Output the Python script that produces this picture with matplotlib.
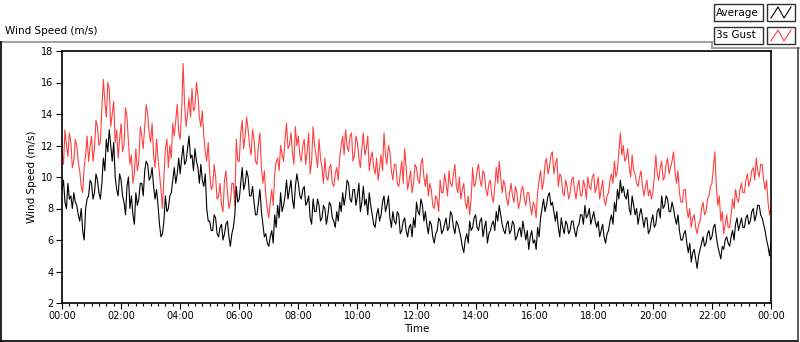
import matplotlib
matplotlib.use("Agg")
import matplotlib.pyplot as plt
import matplotlib.dates as mdates
from matplotlib.lines import Line2D
from matplotlib.patches import Rectangle
import pandas as pd

# ---- data (3-minute samples, 00:00 .. 24:00), m/s ----
gust_00_04 = [11.6, 10.8, 13.0, 12.0, 11.3, 12.8, 12.2, 10.6, 11.0, 12.4, 12.0, 10.9, 10.4, 9.4, 9.0, 10.6,
              11.4, 12.6, 11.0, 11.9, 12.6, 11.0, 11.8, 13.6, 13.2, 12.0, 12.2, 14.4, 16.2, 14.8, 13.8, 16.0,
              15.6, 13.2, 14.0, 14.8, 12.2, 13.0, 11.2, 12.4, 13.4, 11.6, 12.0, 14.4, 13.8, 12.2, 10.8, 11.4,
              9.6, 10.2, 11.8, 10.4, 11.0, 13.2, 12.6, 11.8, 13.2, 14.6, 14.0, 12.8, 12.2, 13.4, 11.4, 10.6,
              12.4, 11.2, 10.2, 9.2, 8.0, 10.0, 11.8, 12.4, 10.6, 12.0, 11.2, 13.4, 12.6, 13.6, 14.6, 12.8]
gust_04_08 = [12.4, 14.2, 17.2, 14.6, 13.2, 14.0, 15.0, 13.8, 15.6, 14.2, 14.4, 16.0, 15.2, 13.8, 13.2, 14.2,
              12.6, 11.6, 11.0, 12.2, 10.2, 9.2, 9.4, 10.8, 10.0, 8.6, 8.8, 9.6, 8.2, 7.8, 9.8, 10.4,
              9.0, 8.0, 8.4, 9.6, 9.6, 8.2, 12.4, 11.0, 11.0, 12.8, 13.6, 11.8, 12.6, 13.8, 13.0, 12.0,
              11.4, 13.0, 12.4, 11.0, 10.8, 12.0, 12.8, 10.6, 9.6, 10.4, 8.8, 8.0, 7.4, 8.4, 9.2, 8.2,
              10.2, 11.0, 11.2, 10.4, 12.0, 11.4, 11.0, 12.4, 13.4, 11.8, 12.0, 12.8, 11.6, 10.8, 13.2, 12.0]
gust_08_12 = [12.6, 11.4, 11.0, 12.0, 12.4, 10.8, 11.6, 12.8, 10.2, 11.0, 13.2, 12.0, 11.4, 10.6, 12.4, 11.2,
              10.6, 9.6, 11.2, 10.0, 9.8, 10.6, 10.8, 9.6, 9.4, 10.2, 10.6, 9.8, 11.2, 12.0, 12.6, 11.4,
              13.0, 12.0, 11.6, 12.6, 12.8, 11.0, 11.4, 12.6, 12.2, 11.2, 10.6, 11.8, 12.8, 11.4, 11.8, 12.6,
              10.4, 11.2, 11.6, 10.6, 10.2, 11.2, 9.8, 10.6, 11.4, 10.4, 12.8, 11.4, 10.8, 12.0, 11.6, 10.4,
              9.8, 10.8, 10.8, 9.6, 9.4, 10.2, 11.0, 9.6, 11.8, 10.6, 9.2, 9.8, 10.4, 9.0, 9.6, 10.8]
gust_12_16 = [10.6, 9.8, 9.6, 10.8, 11.2, 10.0, 9.4, 10.2, 8.8, 9.6, 9.2, 8.2, 8.0, 8.8, 8.6, 7.8,
              9.8, 9.0, 9.0, 10.2, 9.6, 8.8, 10.4, 9.6, 9.4, 10.2, 10.8, 9.4, 9.0, 10.0, 8.6, 9.2,
              9.6, 8.4, 8.0, 8.8, 7.6, 8.6, 10.6, 9.4, 9.6, 10.4, 10.8, 9.8, 9.4, 10.4, 10.2, 9.2,
              8.8, 9.6, 9.8, 8.8, 8.4, 9.4, 10.6, 9.6, 11.0, 10.0, 9.0, 9.8, 9.4, 8.6, 8.2, 9.0,
              9.6, 8.8, 8.4, 9.4, 9.0, 8.0, 8.4, 9.2, 9.4, 8.6, 8.2, 9.0, 9.0, 8.2, 7.6, 8.4]
gust_16_20 = [8.2, 7.4, 9.0, 9.8, 10.4, 9.2, 9.6, 10.8, 11.2, 10.2, 10.6, 11.4, 11.6, 10.2, 10.8, 11.2,
              9.4, 10.2, 10.0, 9.0, 8.8, 9.8, 9.4, 8.6, 9.0, 9.8, 10.0, 9.2, 8.6, 9.4, 9.8, 8.8,
              8.8, 9.8, 9.4, 8.6, 10.0, 9.4, 9.2, 10.0, 10.2, 9.0, 9.4, 10.0, 8.6, 9.2, 9.8, 8.6,
              8.2, 8.8, 9.0, 9.8, 10.2, 9.6, 11.0, 10.0, 10.4, 11.6, 12.8, 11.4, 12.0, 11.0, 11.2, 11.8,
              10.6, 10.0, 11.4, 10.4, 10.2, 9.6, 9.4, 10.0, 10.4, 9.4, 8.8, 9.4, 9.8, 8.8, 9.2, 8.6]
gust_20_24 = [9.0, 10.0, 11.4, 10.2, 9.8, 10.6, 11.0, 9.8, 10.0, 10.8, 11.2, 10.2, 10.6, 11.0, 11.6, 10.4,
              9.6, 10.4, 9.0, 8.4, 8.4, 9.2, 9.2, 8.0, 7.4, 8.0, 6.8, 7.4, 7.6, 6.8, 6.4, 7.0,
              7.2, 8.0, 8.4, 7.6, 7.8, 8.6, 8.8, 9.4, 9.6, 10.6, 11.6, 9.4, 8.2, 8.8, 7.2, 7.8,
              6.4, 7.0, 7.6, 6.8, 6.8, 7.6, 8.6, 8.0, 9.2, 8.6, 8.4, 9.2, 9.6, 9.0, 9.0, 9.8,
              10.2, 9.4, 9.8, 10.4, 10.6, 9.8, 11.2, 10.4, 10.0, 10.8, 10.8, 9.8, 9.2, 9.8, 8.4, 7.6, 8.0]

avg_00_04 = [9.2, 9.8, 8.4, 8.0, 9.6, 8.6, 8.8, 8.0, 9.0, 8.4, 8.2, 7.6, 7.2, 8.0, 6.6, 6.0,
             8.0, 8.6, 8.8, 9.8, 9.6, 8.6, 9.0, 10.2, 9.8, 9.0, 8.6, 9.6, 11.2, 10.4, 12.4, 11.6,
             13.0, 12.0, 11.0, 12.2, 10.0, 9.2, 8.8, 10.2, 9.8, 8.8, 8.4, 7.6, 9.4, 10.0, 8.0, 8.8,
             7.6, 7.0, 9.0, 8.2, 8.6, 9.6, 9.6, 8.8, 10.4, 11.0, 10.8, 9.8, 10.0, 10.6, 9.4, 8.6,
             9.2, 8.2, 7.0, 6.2, 6.4, 7.2, 8.8, 7.8, 8.0, 8.8, 9.0, 9.8, 10.6, 9.6, 10.2, 11.2]
avg_04_08 = [10.2, 11.2, 12.0, 10.8, 11.0, 11.8, 12.6, 11.2, 11.4, 10.4, 11.8, 11.0, 10.6, 9.6, 10.8, 9.8,
             9.4, 10.2, 8.0, 7.2, 7.2, 6.6, 6.6, 7.6, 7.4, 6.4, 6.2, 6.8, 7.0, 6.0, 6.4, 7.0,
             7.2, 6.2, 5.6, 6.4, 6.8, 7.6, 9.4, 8.4, 8.6, 9.6, 10.6, 9.2, 9.6, 10.4, 10.0, 8.8,
             8.8, 9.4, 8.4, 7.6, 7.6, 8.4, 9.2, 7.8, 7.0, 6.2, 6.4, 5.8, 5.6, 6.2, 6.6, 5.8,
             7.6, 6.8, 8.2, 7.4, 9.0, 7.8, 8.2, 8.8, 9.8, 8.6, 9.2, 9.8, 8.6, 8.0, 9.4, 10.2]
avg_08_12 = [9.6, 8.8, 8.6, 9.2, 9.4, 8.2, 8.4, 8.8, 7.4, 7.0, 8.6, 7.8, 7.8, 8.6, 8.2, 7.2,
             7.4, 8.2, 8.0, 7.0, 7.6, 8.4, 8.2, 7.4, 7.2, 6.8, 7.8, 7.2, 8.4, 7.8, 9.0, 8.2,
             8.8, 9.8, 9.6, 8.6, 8.4, 9.2, 9.2, 8.2, 8.8, 9.6, 7.8, 8.4, 9.4, 8.2, 8.6, 7.6,
             9.0, 8.2, 7.6, 7.0, 6.8, 7.6, 8.0, 7.2, 7.6, 8.4, 8.8, 7.8, 8.2, 8.8, 7.4, 6.8,
             7.8, 7.2, 7.0, 7.8, 7.6, 6.4, 6.6, 7.2, 7.4, 6.6, 6.2, 6.8, 7.0, 6.2, 7.4, 6.8]
avg_12_16 = [8.4, 7.8, 7.6, 8.6, 8.2, 7.2, 7.8, 7.0, 6.4, 7.2, 7.0, 6.2, 5.8, 6.4, 6.6, 7.4,
             7.2, 6.4, 6.6, 7.0, 7.4, 6.6, 6.8, 7.8, 7.6, 6.8, 6.4, 7.2, 7.0, 6.6, 6.2, 5.6,
             5.2, 6.0, 6.4, 5.8, 7.2, 6.6, 6.8, 7.4, 7.6, 6.8, 6.6, 7.2, 7.4, 6.2, 6.8, 7.2,
             5.8, 6.4, 6.6, 7.0, 7.2, 6.6, 7.8, 7.2, 8.2, 7.6, 7.0, 6.6, 6.4, 7.0, 7.2, 6.4,
             6.6, 7.2, 7.0, 6.0, 6.2, 6.6, 6.8, 6.2, 7.2, 6.6, 6.0, 6.6, 5.4, 6.2, 6.6, 5.8]
avg_16_20 = [6.0, 5.4, 6.8, 6.2, 7.4, 8.0, 8.6, 7.8, 8.2, 8.8, 9.0, 8.2, 8.4, 7.8, 7.2, 7.8,
             6.8, 6.2, 7.4, 6.8, 6.4, 7.2, 7.0, 6.4, 6.6, 7.2, 7.2, 6.6, 6.2, 6.8, 7.0, 7.6,
             7.6, 7.0, 8.2, 7.4, 7.6, 8.0, 7.0, 7.4, 7.8, 7.2, 6.8, 7.2, 6.2, 6.6, 7.0, 6.2,
             5.8, 6.4, 6.6, 7.2, 7.6, 7.0, 8.4, 7.8, 9.2, 8.6, 9.8, 9.0, 9.4, 8.8, 8.6, 9.2,
             8.0, 7.6, 8.8, 8.2, 7.6, 8.0, 7.0, 7.6, 8.0, 7.4, 6.8, 7.4, 7.4, 6.4, 6.6, 7.2]
avg_20_24 = [7.6, 6.8, 7.0, 7.8, 8.0, 7.4, 8.8, 8.0, 8.2, 8.8, 8.6, 7.8, 7.8, 8.4, 8.0, 7.4,
             7.0, 7.6, 6.6, 6.0, 6.0, 6.4, 6.6, 5.8, 5.2, 5.8, 4.6, 5.2, 5.4, 4.8, 4.2, 5.0,
             5.4, 5.8, 6.2, 5.6, 5.8, 6.4, 6.6, 6.0, 6.2, 6.8, 7.0, 6.2, 5.6, 5.2, 4.8, 5.6,
             5.4, 6.0, 6.2, 5.8, 5.6, 6.2, 6.6, 6.0, 7.0, 7.4, 6.6, 7.0, 7.4, 6.8, 6.8, 7.4,
             7.6, 7.0, 7.2, 7.8, 8.0, 7.2, 7.6, 8.2, 8.2, 7.6, 7.4, 7.0, 6.6, 6.0, 5.6, 5.0, 5.8]

gust = gust_00_04 + gust_04_08 + gust_08_12 + gust_12_16 + gust_16_20 + gust_20_24
average = avg_00_04 + avg_04_08 + avg_08_12 + avg_12_16 + avg_16_20 + avg_20_24
times = pd.date_range("2020-01-01 00:00", periods=len(gust), freq="3min")

series_labels = ["Average", "3s Gust"]
y_ticks = [2, 4, 6, 8, 10, 12, 14, 16, 18]

RED = "#ff4040"
W, H = 800, 342

fig = plt.figure(figsize=(8.0, 3.42), dpi=100)
fig.patch.set_facecolor("white")


def fx(px):
    return px / W


def fy(py):
    return 1 - py / H


ax = fig.add_axes([fx(62), fy(303), fx(771) - fx(62), fy(51) - fy(303)])
ax.plot(times, gust, color=RED, lw=0.8)
ax.plot(times, average, color="black", lw=0.8)

ax.set_ylim(2, 18)
ax.set_xlim(times[0], times[-1])
ax.set_yticks(y_ticks)
ax.xaxis.set_major_locator(mdates.HourLocator(interval=2))
ax.xaxis.set_minor_locator(mdates.MinuteLocator(byminute=[0, 15, 30, 45]))
ax.xaxis.set_major_formatter(mdates.DateFormatter("%H:%M"))
ax.tick_params(axis="both", labelsize=7, length=4, width=0.8, pad=2, colors="black")
ax.tick_params(axis="x", which="minor", length=2.5, width=0.8)
for s in ax.spines.values():
    s.set_linewidth(1.2)
ax.set_xlabel("Time", fontsize=7.5, labelpad=2)
ax.set_ylabel("Wind Speed (m/s)", fontsize=7.5, labelpad=3)

# title
fig.text(fx(5), fy(31), "Wind Speed (m/s)", fontsize=7.5, va="center", ha="left")

# outer frame lines
frame = dict(transform=fig.transFigure, lw=1.2)
fig.add_artist(Line2D([fx(0), fx(712)], [fy(42), fy(42)], color="#909090", **frame))
fig.add_artist(Line2D([fx(712), fx(712)], [fy(42), fy(48)], color="#909090", **frame))
fig.add_artist(Line2D([fx(712), fx(800)], [fy(48), fy(48)], color="#909090", **frame))
fig.add_artist(Line2D([fx(0.6), fx(0.6)], [fy(42), fy(341)], color="black", **frame))
fig.add_artist(Line2D([fx(0), fx(798)], [fy(341), fy(341)], color="black", **frame))
fig.add_artist(Line2D([fx(798), fx(798)], [fy(48), fy(341)], color="#404040", **frame))

# legend
for i, (lab, col) in enumerate(zip(series_labels, ["black", RED])):
    top = 4 + i * 23
    bot = top + 17
    fig.add_artist(Rectangle((fx(714), fy(bot)), fx(763) - fx(714), fy(top) - fy(bot),
                             transform=fig.transFigure, facecolor="white",
                             edgecolor="#303030", lw=1.0))
    fig.text(fx(716), fy((top + bot) / 2), lab, fontsize=7.5, va="center", ha="left")
    fig.add_artist(Rectangle((fx(767), fy(bot)), fx(795) - fx(767), fy(top) - fy(bot),
                             transform=fig.transFigure, facecolor="white",
                             edgecolor="#303030", lw=1.0))
    zx = [771, 778, 784, 791]
    zy = [bot - 3, top + 3, bot - 3, top + 3]
    fig.add_artist(Line2D([fx(v) for v in zx], [fy(v) for v in zy], color=col,
                          lw=0.8, transform=fig.transFigure))

fig.savefig("out.png", dpi=100, facecolor="white")
